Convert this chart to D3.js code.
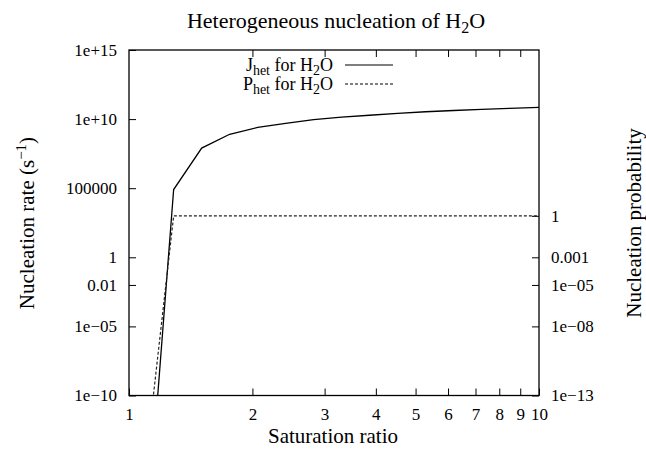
<!DOCTYPE html>
<html>
<head>
<meta charset="utf-8">
<script src="https://cdn.jsdelivr.net/npm/d3@7"></script>
<style>
  body { margin: 0; background: #fff; }
  text { font-family: "Liberation Serif", "DejaVu Serif", serif; fill: #000; }
</style>
</head>
<body>
<svg width="646" height="449"></svg>
<script>
// saturation ratio grid and the two series
var satRatio = [1.098, 1.285, 1.504, 1.76, 2.06, 2.41, 2.82, 3.30, 3.86, 4.52, 5.29, 6.19, 7.24, 8.47, 10];
var jHet = [5e-22, 8e4, 8e7, 8e8, 2.5e9, 4.9e9, 9.1e9, 1.4e10, 1.9e10, 2.6e10, 3.4e10, 4.2e10, 5.0e10, 5.9e10, 7.0e10];
var pHet = [1.1e-18, 1, 1, 1, 1, 1, 1, 1, 1, 1, 1, 1, 1, 1, 1];

var xTicks = [1, 2, 3, 4, 5, 6, 7, 8, 9, 10];
var y1Ticks = [1e15, 1e10, 1e5, 1, 0.01, 1e-5, 1e-10];
var y1Labels = ["1e+15", "1e+10", "100000", "1", "0.01", "1e\u221205", "1e\u221210"];
var y2Ticks = [1, 1e-3, 1e-5, 1e-8, 1e-13];
var y2Labels = ["1", "0.001", "1e\u221205", "1e\u221208", "1e\u221213"];

function main() {
    var svg = d3.select("svg"),
        left = 129, right = 539, top = 50, bottom = 395.5,
        width = right - left, height = bottom - top;

    var x = d3.scaleLog().domain([1, 10]).range([0, width]),
        y1 = d3.scaleLog().domain([1e-10, 1e15]).range([height, 0]),
        y2 = d3.scaleLog().domain([1e-13, 1e12]).range([height, 0]);

    var g = svg.append("g").attr("transform", "translate(" + left + "," + top + ")");

    g.append("clipPath").attr("id", "clip")
        .append("rect").attr("width", width).attr("height", height);

    // axes, gnuplot style: ticks pointing inward
    g.append("g").attr("class", "ax").attr("transform", "translate(0," + height + ")")
        .call(d3.axisBottom(x).tickValues(xTicks).tickFormat(function(d) { return d; })
            .tickSizeInner(-7).tickSizeOuter(0).tickPadding(12));
    g.append("g").attr("class", "ax")
        .call(d3.axisTop(x).tickValues(xTicks.slice(1, 9)).tickFormat("")
            .tickSizeInner(-7).tickSizeOuter(0));
    g.append("g").attr("class", "ax")
        .call(d3.axisLeft(y1).tickValues(y1Ticks).tickFormat(function(d, i) { return y1Labels[i]; })
            .tickSizeInner(-7).tickSizeOuter(0).tickPadding(12));
    g.append("g").attr("class", "ax").attr("transform", "translate(" + width + ",0)")
        .call(d3.axisRight(y2).tickValues(y2Ticks).tickFormat(function(d, i) { return y2Labels[i]; })
            .tickSizeInner(-7).tickSizeOuter(0).tickPadding(12));

    g.selectAll(".ax .domain").remove();
    g.selectAll(".ax text").attr("font-size", "17px")
        .style("font-family", "'Liberation Serif', serif");
    g.selectAll(".ax line").attr("stroke", "#000").attr("stroke-width", 1);

    g.append("rect").attr("width", width).attr("height", height)
        .attr("fill", "none").attr("stroke", "#000").attr("stroke-width", 1.3);

    var data = satRatio.map(function(s, i) { return {s: s, j: jHet[i], p: pHet[i]}; });

    var plot = g.append("g").attr("clip-path", "url(#clip)");
    plot.append("path").datum(data)
        .attr("fill", "none").attr("stroke", "#000").attr("stroke-width", 1.3)
        .attr("d", d3.line().x(function(d) { return x(d.s); }).y(function(d) { return y1(d.j); }));
    plot.append("path").datum(data)
        .attr("fill", "none").attr("stroke", "#222").attr("stroke-width", 1.2)
        .attr("stroke-dasharray", "3,2")
        .attr("d", d3.line().x(function(d) { return x(d.s); }).y(function(d) { return y2(d.p); }));

    // legend
    var leg = [{name: "J", dash: null, y: 65}, {name: "P", dash: "3,2", y: 84}];
    leg.forEach(function(l) {
        var t = svg.append("text").attr("x", 333).attr("y", l.y + 6)
            .attr("text-anchor", "end").attr("font-size", "18px");
        t.append("tspan").text(l.name);
        t.append("tspan").attr("dy", 4).attr("font-size", "14px").text("het");
        t.append("tspan").attr("dy", -4).text(" for H");
        t.append("tspan").attr("dy", 4).attr("font-size", "14px").text("2");
        t.append("tspan").attr("dy", -4).text("O");
        svg.append("line").attr("x1", 345).attr("x2", 393).attr("y1", l.y).attr("y2", l.y)
            .attr("stroke", "#000").attr("stroke-width", 1.2)
            .attr("stroke-dasharray", l.dash);
    });

    // title
    var title = svg.append("text").attr("x", 336).attr("y", 28)
        .attr("text-anchor", "middle").attr("font-size", "22px");
    title.append("tspan").text("Heterogeneous nucleation of H");
    title.append("tspan").attr("dy", 5).attr("font-size", "16px").text("2");
    title.append("tspan").attr("dy", -5).text("O");

    svg.append("text").attr("x", 333).attr("y", 443)
        .attr("text-anchor", "middle").attr("font-size", "21px").text("Saturation ratio");

    var yl = svg.append("text").attr("transform", "translate(34,223) rotate(-90)")
        .attr("text-anchor", "middle").attr("font-size", "21px");
    yl.append("tspan").text("Nucleation rate (s");
    yl.append("tspan").attr("dy", -8).attr("font-size", "15px").text("\u22121");
    yl.append("tspan").attr("dy", 8).text(")");

    svg.append("text").attr("transform", "translate(641,223) rotate(-90)")
        .attr("text-anchor", "middle").attr("font-size", "21px").text("Nucleation probability");
}

main();
</script>
</body>
</html>
